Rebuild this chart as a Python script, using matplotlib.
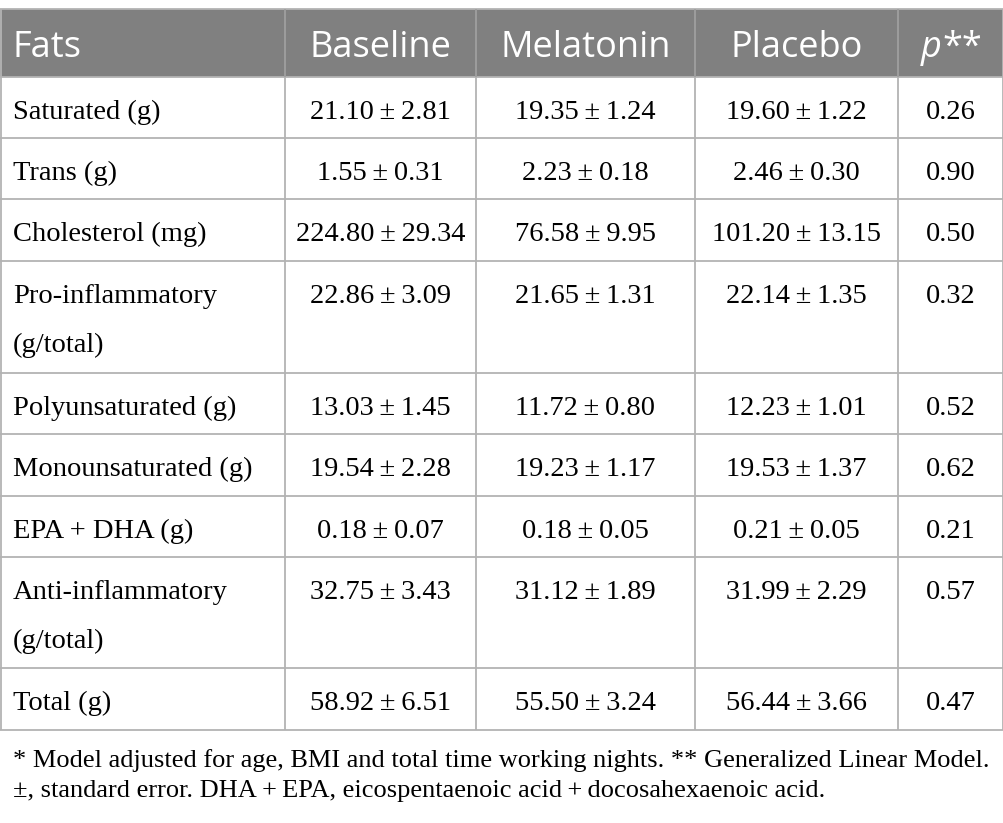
import matplotlib
matplotlib.use("Agg")
import matplotlib.pyplot as plt
from matplotlib.patches import Rectangle

# table content
headers = ["Fats", "Baseline", "Melatonin", "Placebo"]
fats = ["Saturated (g)", "Trans (g)", "Cholesterol (mg)", "Pro-inflammatory\n(g/total)",
        "Polyunsaturated (g)", "Monounsaturated (g)", "EPA + DHA (g)",
        "Anti-inflammatory\n(g/total)", "Total (g)"]
baseline = ["21.10 ± 2.81", "1.55 ± 0.31", "224.80 ± 29.34", "22.86 ± 3.09",
            "13.03 ± 1.45", "19.54 ± 2.28", "0.18 ± 0.07", "32.75 ± 3.43", "58.92 ± 6.51"]
melatonin = ["19.35 ± 1.24", "2.23 ± 0.18", "76.58 ± 9.95", "21.65 ± 1.31",
             "11.72 ± 0.80", "19.23 ± 1.17", "0.18 ± 0.05", "31.12 ± 1.89", "55.50 ± 3.24"]
placebo = ["19.60 ± 1.22", "2.46 ± 0.30", "101.20 ± 13.15", "22.14 ± 1.35",
           "12.23 ± 1.01", "19.53 ± 1.37", "0.21 ± 0.05", "31.99 ± 2.29", "56.44 ± 3.66"]
pvals = ["0.26", "0.90", "0.50", "0.32", "0.52", "0.62", "0.21", "0.57", "0.47"]
footnote = ["* Model adjusted for age, BMI and total time working nights. ** Generalized Linear Model.",
            "±, standard error. DHA + EPA, eicospentaenoic acid + docosahexaenoic acid."]

W, H = 1004, 823
col_x = [0, 285, 476, 695, 898, 1004]
row_y = [9, 77, 138, 199, 261, 373, 434, 496, 557, 668, 730]

serif = ["Liberation Serif", "DejaVu Serif"]
sans = ["Open Sans", "DejaVu Sans"]
line_c = "#b3b3b3"
head_c = "#808080"

fig = plt.figure(figsize=(W / 100, H / 100), dpi=100)
ax = fig.add_axes([0, 0, 1, 1])
ax.set_xlim(0, W)
ax.set_ylim(H, 0)
ax.axis("off")

# header band
ax.add_patch(Rectangle((0, row_y[0]), W, row_y[1] - row_y[0], color=head_c, lw=0))
hb = 57  # header baseline
ax.text(13, hb, headers[0], family=sans, fontsize=26, color="white", va="baseline", ha="left")
for i, h in enumerate(headers[1:], start=1):
    ax.text((col_x[i] + col_x[i + 1]) / 2, hb, h, family=sans, fontsize=26,
            color="white", va="baseline", ha="center")
# p** header: italic p followed by upright stars
tp = ax.text(921, hb, "p", family=sans, fontsize=26, style="italic",
             color="white", va="baseline", ha="left")
fig.canvas.draw()
bb = tp.get_window_extent()
ax.text(bb.x1 / fig.dpi * 100 + 1, hb, "**", family=sans, fontsize=26,
        color="white", va="baseline", ha="left")

# grid lines
ax.hlines(row_y, 0, W, color=line_c, lw=1.3)
ax.vlines(col_x[1:-1], row_y[0], row_y[1], color="#a0a0a0", lw=1.3)
ax.vlines(col_x[1:-1], row_y[1], row_y[-1], color=line_c, lw=1.3)
ax.vlines([0.7, W - 0.7], row_y[0], row_y[-1], color=line_c, lw=1.3)

# body cells
cols = [baseline, melatonin, placebo, pvals]
for r in range(len(fats)):
    top = row_y[r + 1]
    lines = fats[r].split("\n")
    ty = top + 42
    for k, ln in enumerate(lines):
        ax.text(13, ty + 49 * k, ln, family=serif, fontsize=20.5, va="baseline", ha="left")
    for c, vals in enumerate(cols):
        cx = (col_x[c + 1] + col_x[c + 2]) / 2
        ax.text(cx, ty, vals[r].replace(" ± ", "\u2009±\u2009"), family=serif,
                fontsize=20.5, va="baseline", ha="center")

ax.text(13, 767, footnote[0], family=serif, fontsize=19, va="baseline", ha="left")
ax.text(13, 797, footnote[1].replace(" + ", "\u2009+\u2009"), family=serif,
        fontsize=19, va="baseline", ha="left")

fig.savefig("out.png", dpi=100)
